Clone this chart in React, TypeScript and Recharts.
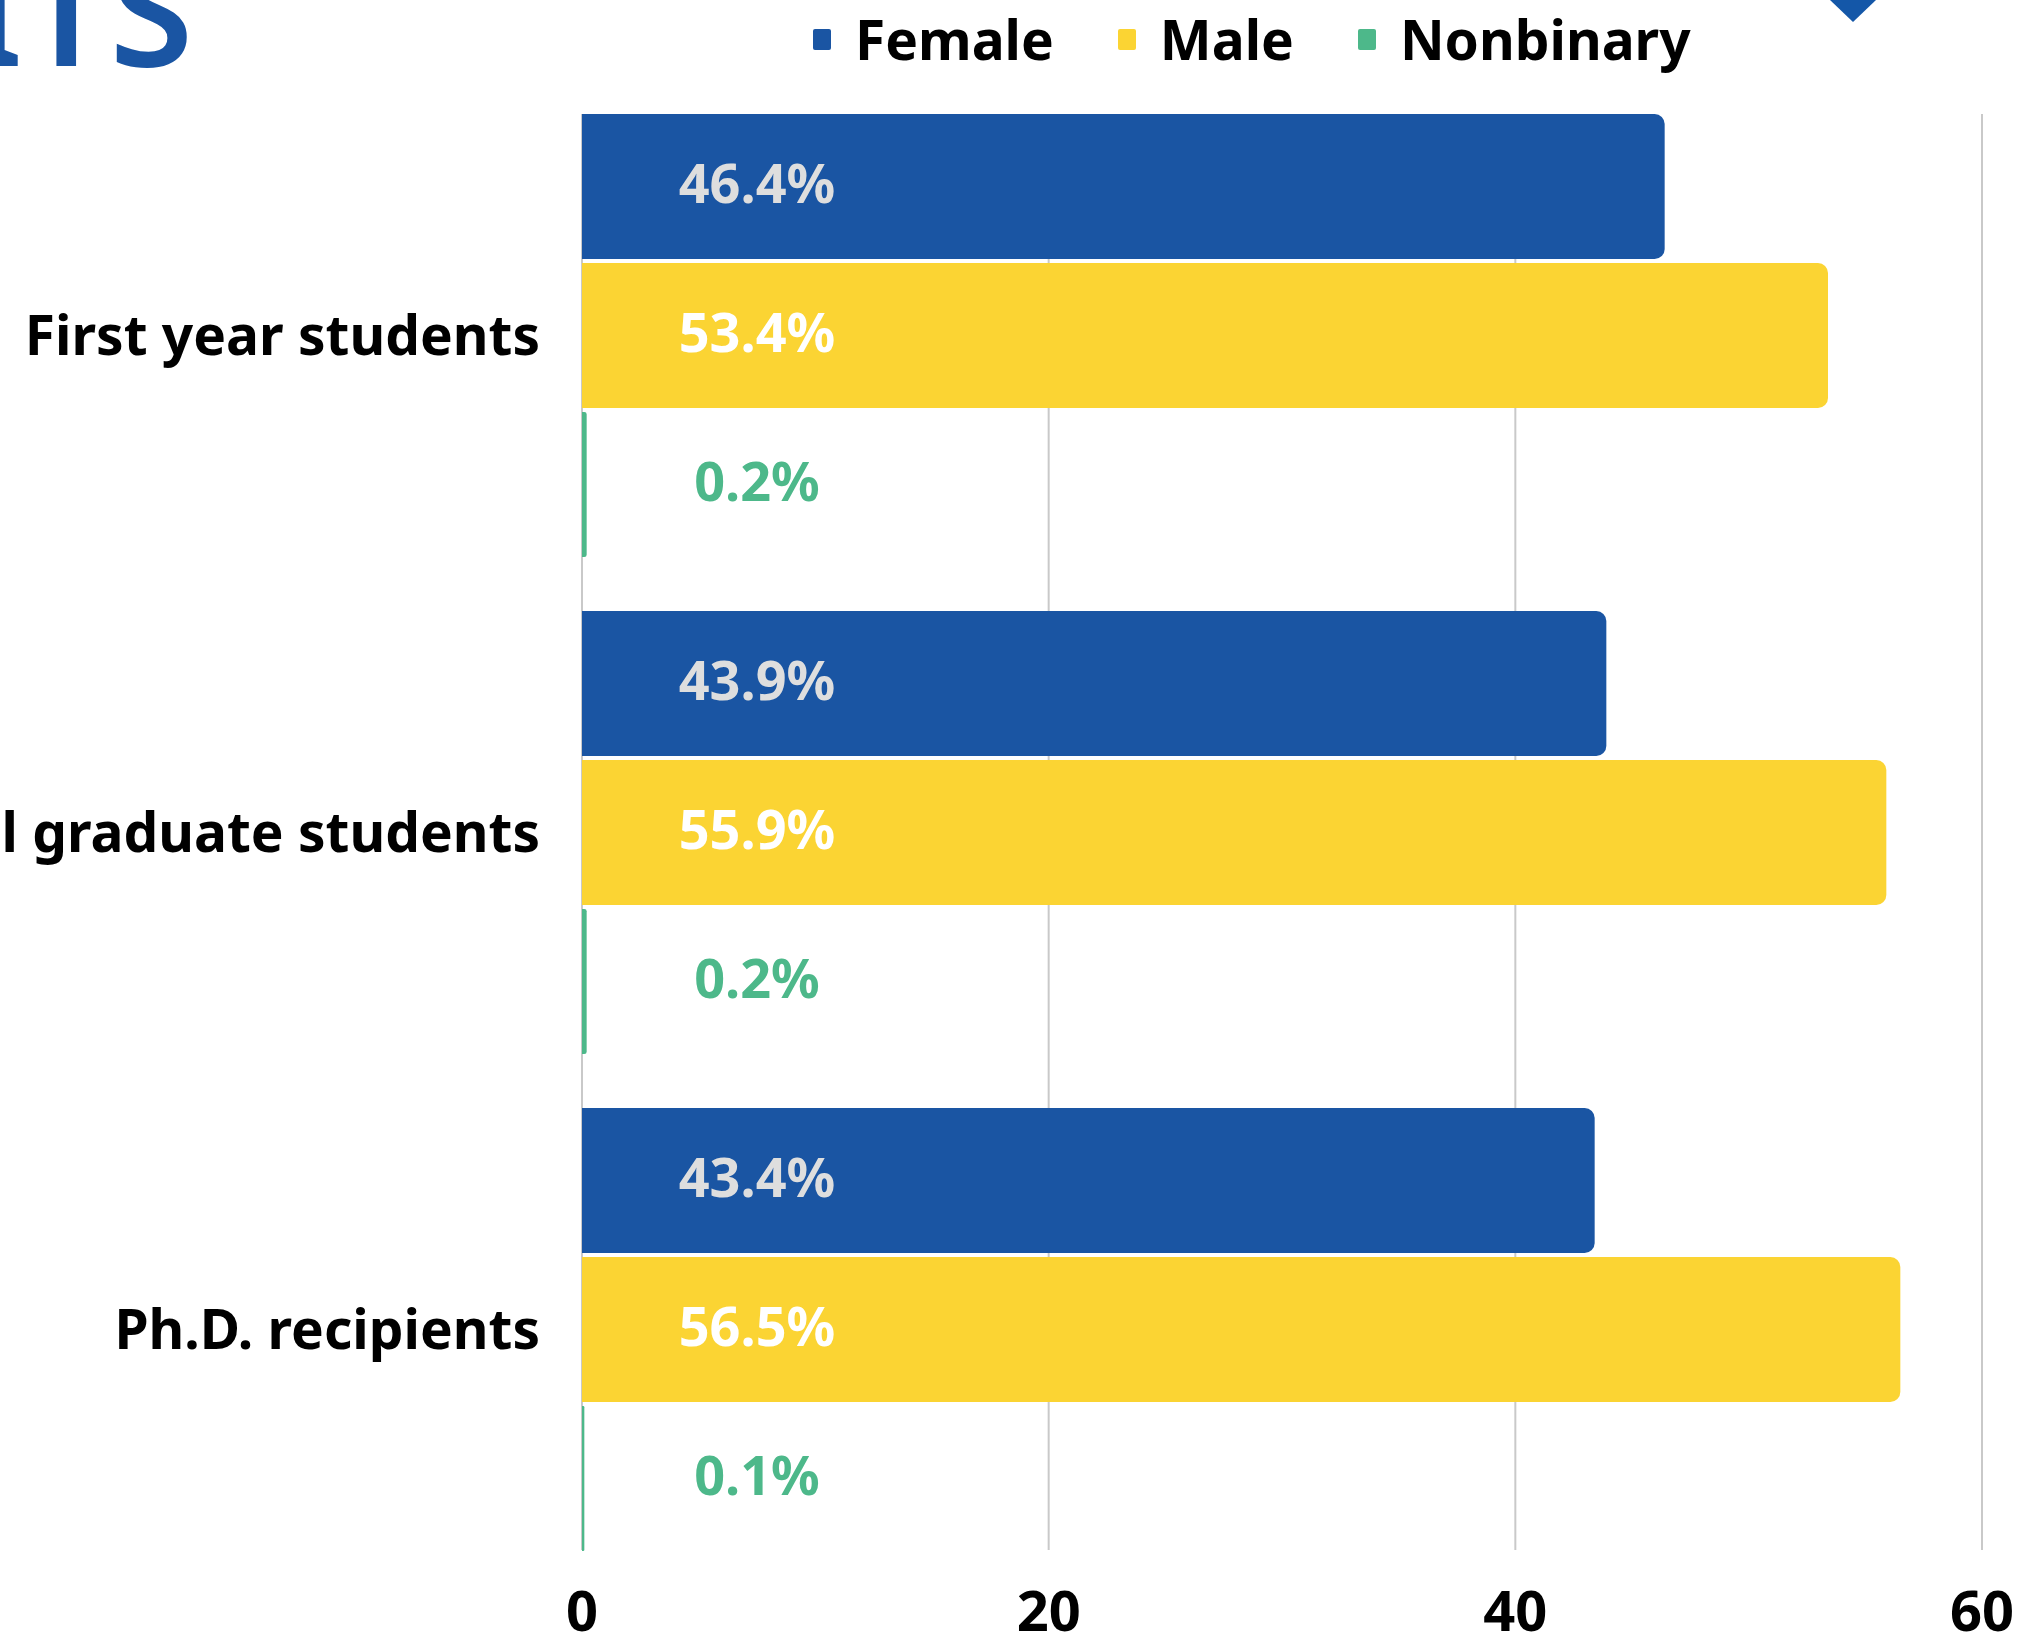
import React from 'react';
import {
  BarChart, Bar, XAxis, YAxis, CartesianGrid, Legend, LabelList,
} from 'recharts';

const categories = ['First year students', 'Total graduate students', 'Ph.D. recipients'];
const femaleShare = [46.4, 43.9, 43.4];
const maleShare = [53.4, 55.9, 56.5];
const nonbinaryShare = [0.2, 0.2, 0.1];
const xTicks = [0, 20, 40, 60];

const FONT = '"Noto Sans", "Open Sans", sans-serif';

const series = [
  { key: 'female', name: 'Female', color: '#1a55a3', labelColor: '#dedede' },
  { key: 'male', name: 'Male', color: '#fbd433', labelColor: '#ffffff' },
  { key: 'nonbinary', name: 'Nonbinary', color: '#4db88a', labelColor: '#4db88a' },
];

const data = categories.map((name, i) => ({
  name,
  female: femaleShare[i],
  male: maleShare[i],
  nonbinary: nonbinaryShare[i],
}));

const renderLegend = () => (
  <div
    style={{
      display: 'flex',
      alignItems: 'center',
      fontFamily: FONT,
      fontWeight: 700,
      fontSize: 55,
      lineHeight: '64px',
      color: '#000',
      whiteSpace: 'nowrap',
    }}
  >
    {series.map((s) => (
      <div key={s.key} style={{ display: 'flex', alignItems: 'center', marginRight: 64 }}>
        <span
          style={{ display: 'inline-block', width: 18, height: 21, background: s.color, borderRadius: 2, marginRight: 24 }}
        />
        <span>{s.name}</span>
      </div>
    ))}
  </div>
);

const makeLabel = (color: string) => (props: any) => {
  const { x, y, height, value } = props;
  return (
    <text
      x={x + 175}
      y={y + height / 2}
      dy="0.31em"
      textAnchor="middle"
      fontFamily={FONT}
      fontWeight={700}
      fontSize={54}
      fill={color}
    >
      {Number(value).toFixed(1)}%
    </text>
  );
};

const App: React.FC = () => {
  return (
    <div style={{ position: 'absolute', left: 0, top: 0, width: 2025, height: 1634, background: '#fff', overflow: 'hidden' }}>
      <svg width={2025} height={140} style={{ position: 'absolute', left: 0, top: 0 }}>
        <text x={193} y={66} textAnchor="end" fontFamily={FONT} fontSize={152} fontWeight={600} fill="#1a55a3">
          ITS
        </text>
        <polygon points="1853,-23 1876,0 1853,22 1830,0" fill="#1457a8" />
      </svg>
      <BarChart
        width={2025}
        height={1634}
        data={data}
        layout="vertical"
        margin={{ top: 86.5, right: 43, bottom: 0, left: 0 }}
        barCategoryGap={27.5}
        barGap={4}
        style={{ position: 'absolute', left: 0, top: 0 }}
      >
        <CartesianGrid horizontal={false} stroke="#c9c9c9" strokeWidth={2} y={114} height={1436} />
        <XAxis
          type="number"
          domain={[0, 60]}
          ticks={xTicks}
          axisLine={false}
          tickLine={false}
          height={56.5}
          tickMargin={8}
          tick={{ fontFamily: FONT, fontWeight: 700, fontSize: 56, fill: '#000' }}
        />
        <YAxis
          type="category"
          dataKey="name"
          width={582}
          axisLine={false}
          tickLine={false}
          tickMargin={36}
          tick={{ fontFamily: FONT, fontWeight: 700, fontSize: 55, fill: '#000' }}
        />
        <Legend
          verticalAlign="top"
          align="left"
          content={renderLegend}
          wrapperStyle={{ position: 'absolute', top: 7, left: 813, width: 'auto', height: 0 }}
        />
        {series.map((s) => (
          <Bar key={s.key} dataKey={s.key} name={s.name} fill={s.color} radius={[0, 10, 10, 0]} isAnimationActive={false}>
            <LabelList dataKey={s.key} content={makeLabel(s.labelColor)} />
          </Bar>
        ))}
      </BarChart>
    </div>
  );
};

export default App;
